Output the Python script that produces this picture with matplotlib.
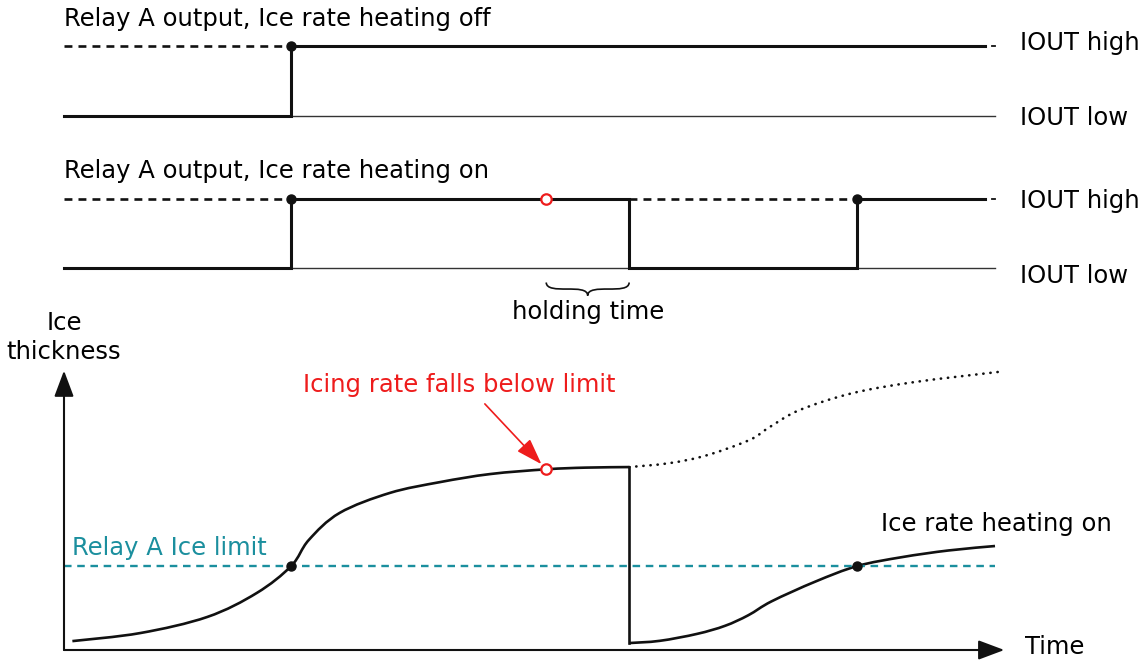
import matplotlib
matplotlib.use("Agg")
import numpy as np
import matplotlib.pyplot as plt
from matplotlib.path import Path
from matplotlib.patches import PathPatch

plt.rcParams['font.family'] = 'DejaVu Sans'
FS = 17.5

# switching instants on a 0..100 time scale
t_on = 24.4        # ice reaches relay limit -> output goes high
t_below = 51.8     # icing rate falls below limit
t_off = 60.7       # end of holding time -> output goes low
t_on2 = 85.2       # limit reached again with heating on
t_end = 100.0

# ice thickness (0..100) and the relay limit
ice_limit = 30.2

t_grow = [0.9, 8.2, 15.4, 20.7, 24.4, 26.3, 29.6, 35.0, 40.4, 45.8, 51.8, 56.0, 60.7]
th_grow = [3.2, 6.1, 11.9, 20.5, 30.2, 39.6, 49.3, 56.5, 60.4, 63.3, 65.0, 65.6, 65.8]

t_nohold = [60.7, 65.0, 69.0, 73.6, 75.8, 79.0, 84.7, 91.4, 100.3]
th_nohold = [65.8, 67.2, 70.0, 75.5, 80.2, 86.3, 92.4, 96.4, 100.0]

t_heat = [60.7, 64.0, 68.0, 71.0, 73.5, 76.0, 80.7, 85.2, 90.0, 95.0, 100.0]
th_heat = [2.5, 3.3, 5.8, 8.7, 12.5, 17.5, 24.6, 30.2, 33.4, 35.8, 37.4]

black = "#111111"
teal = "#1b8f9e"
red = "#ee1c1c"
grey = "#333333"

fig = plt.figure(figsize=(11.43, 6.62), dpi=100)
W, H = 1143.0, 662.0
left_px, width_px = 64.0, 931.0


def panel(top_px, bottom_px):
    return fig.add_axes([left_px / W, 1 - bottom_px / H, width_px / W, (bottom_px - top_px) / H])


def smooth(xs, ys):
    # Catmull-Rom through the points, drawn as cubic Bezier segments
    p = np.column_stack([xs, ys]).astype(float)
    n = len(p)
    verts = [p[0]]
    codes = [Path.MOVETO]
    for i in range(n - 1):
        p0 = p[i - 1] if i > 0 else p[i]
        p3 = p[i + 2] if i + 2 < n else p[i + 1]
        verts += [p[i] + (p[i + 1] - p0) / 6, p[i + 1] - (p3 - p[i]) / 6, p[i + 1]]
        codes += [Path.CURVE4] * 3
    return Path(verts, codes)


ax1 = panel(46, 116)
ax2 = panel(199, 268)
ax3 = panel(372, 650)
for ax in (ax1, ax2):
    ax.set_xlim(0, t_end)
    ax.set_ylim(0, 1)
    ax.axis("off")
ax3.set_xlim(0, t_end)
ax3.set_ylim(0, 100)
ax3.axis("off")

lw_sig = 2.2
dash = (0, (3.0, 2.3))
kw = dict(clip_on=False)

# ---- relay output, heating off ----
ax1.plot([0, t_end], [0, 0], color=grey, lw=1.0, **kw)
ax1.plot([0, t_on], [1, 1], color=black, lw=1.9, ls=dash, **kw)
ax1.plot([0, t_on, t_on, 98.9], [0, 0, 1, 1], color=black, lw=lw_sig, solid_joinstyle="miter", **kw)
ax1.plot([99.7, 100.0], [1, 1], color=black, lw=1.3, **kw)
ax1.plot([t_on], [1], "o", color=black, ms=6.5, **kw)
ax1.text(0, 1.29, "Relay A output, Ice rate heating off", fontsize=FS, va="baseline", ha="left")
ax1.text(102.7, 1.04, "IOUT high", fontsize=FS, va="center", ha="left")
ax1.text(102.7, -0.03, "IOUT low", fontsize=FS, va="center", ha="left")

# ---- relay output, heating on ----
ax2.plot([0, t_end], [0, 0], color=grey, lw=1.0, **kw)
ax2.plot([0, t_on], [1, 1], color=black, lw=1.9, ls=dash, **kw)
ax2.plot([t_off, t_on2], [1, 1], color=black, lw=1.9, ls=dash, **kw)
ax2.plot([0, t_on, t_on, t_off, t_off, t_on2, t_on2, 98.9],
         [0, 0, 1, 1, 0, 0, 1, 1], color=black, lw=lw_sig, solid_joinstyle="miter", **kw)
ax2.plot([99.7, 100.0], [1, 1], color=black, lw=1.3, **kw)
ax2.plot([t_on, t_on2], [1, 1], "o", color=black, ms=6.5, **kw)
ax2.plot([t_below], [1], "o", mfc="white", mec=red, mew=1.6, ms=7.5, **kw)
ax2.text(0, 1.30, "Relay A output, Ice rate heating on", fontsize=FS, va="baseline", ha="left")
ax2.text(102.7, 0.97, "IOUT high", fontsize=FS, va="center", ha="left")
ax2.text(102.7, -0.12, "IOUT low", fontsize=FS, va="center", ha="left")

# curly brace marking the holding time
ya, yc = -0.21, -0.40
xm = (t_below + t_off) / 2
brace = Path([(t_below, ya), (t_below, yc), (xm, ya), (xm, yc),
              (xm, ya), (t_off, yc), (t_off, ya)],
             [Path.MOVETO, Path.CURVE4, Path.CURVE4, Path.CURVE4,
              Path.CURVE4, Path.CURVE4, Path.CURVE4])
ax2.add_patch(PathPatch(brace, fc="none", ec=black, lw=1.2, clip_on=False))
ax2.text(xm, -0.64, "holding time", fontsize=FS, va="center", ha="center")

# ---- ice thickness ----
arrow = dict(arrowstyle="-|>,head_length=0.8,head_width=0.3", color=black, lw=1.5,
             shrinkA=0, shrinkB=0, mutation_scale=20)
ax3.annotate("", xy=(0, 100.5), xytext=(0, 0), arrowprops=arrow, annotation_clip=False)
ax3.annotate("", xy=(101.0, 0), xytext=(0, 0), arrowprops=arrow, annotation_clip=False)
ax3.text(0, 112.5, "Ice\nthickness", fontsize=FS, va="center", ha="center", linespacing=1.25)
ax3.text(103.2, 1.0, "Time", fontsize=FS, va="center", ha="left")

ax3.plot([0, t_end], [ice_limit, ice_limit], color=teal, lw=1.7, ls=(0, (3.2, 2.4)), **kw)
ax3.text(0.9, 34.0, "Relay A Ice limit", fontsize=FS, color=teal, va="baseline", ha="left")

ax3.add_patch(PathPatch(smooth(t_grow, th_grow), fc="none", ec=black, lw=1.9, **kw))
ax3.plot([t_off, t_off], [th_grow[-1], th_heat[0]], color=black, lw=1.9, **kw)
ax3.add_patch(PathPatch(smooth(t_nohold, th_nohold), fc="none", ec=black, lw=1.9,
                        ls=(0, (0.1, 2.6)), capstyle="round", **kw))
ax3.add_patch(PathPatch(smooth(t_heat, th_heat), fc="none", ec=black, lw=1.9, **kw))
ax3.plot([t_on, t_on2], [ice_limit, ice_limit], "o", color=black, ms=6.5, **kw)
ax3.plot([t_below], [th_grow[10]], "o", mfc="white", mec=red, mew=1.6, ms=7.5, **kw)
ax3.text(87.8, 45.5, "Ice rate heating on", fontsize=FS, va="center", ha="left")

ax3.annotate("Icing rate falls below limit", xy=(t_below, th_grow[10]), xytext=(42.5, 95.3),
             fontsize=FS, color=red, ha="center", va="center",
             arrowprops=dict(arrowstyle="-|>,head_length=0.9,head_width=0.3", color=red, lw=1.2,
                             relpos=(0.56, 0.0), shrinkA=4, shrinkB=5, mutation_scale=18),
             annotation_clip=False)

fig.savefig("out.png", dpi=100)
